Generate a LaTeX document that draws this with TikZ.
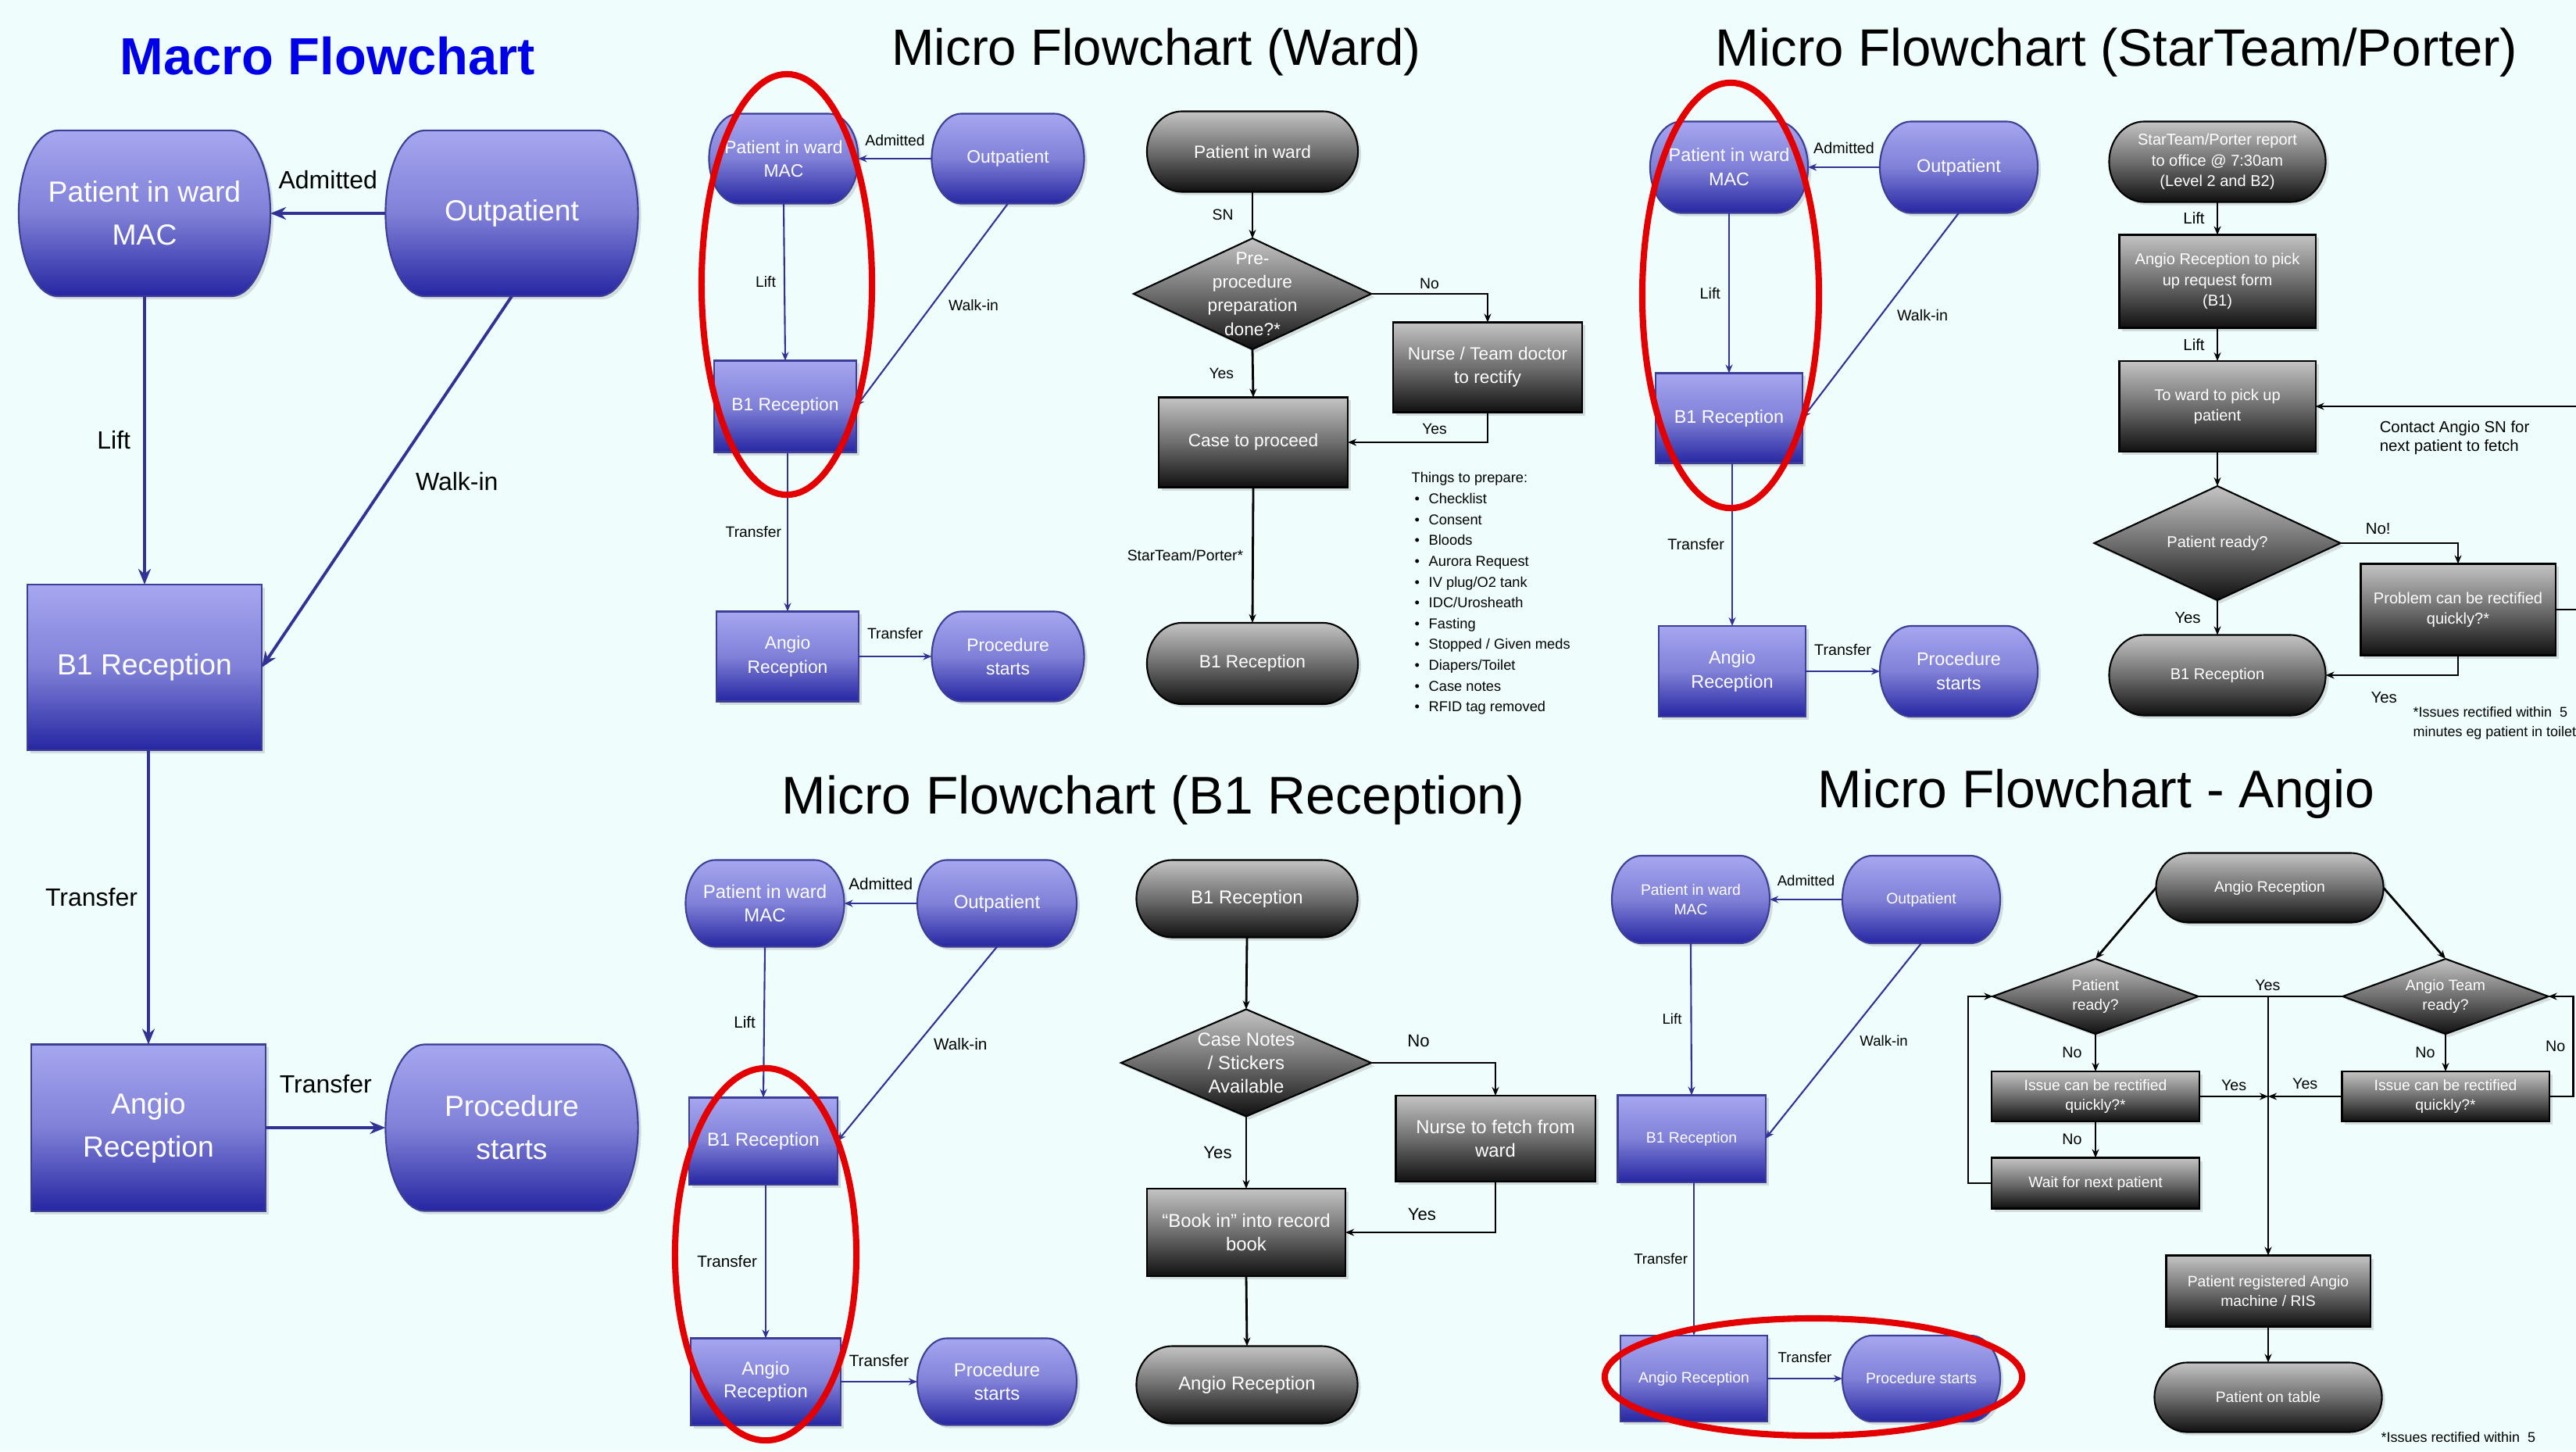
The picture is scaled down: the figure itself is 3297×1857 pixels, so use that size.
\documentclass[tikz,border=0pt]{standalone}
\usepackage{fontspec}
\setmainfont{Liberation Sans}
\usetikzlibrary{positioning,shapes.geometric,arrows.meta,shadows}

\definecolor{bgcol}{RGB}{239,253,253}
\definecolor{bluetop}{RGB}{166,166,240}
\definecolor{bluemid}{RGB}{128,128,216}
\definecolor{bluebot}{RGB}{38,38,162}
\definecolor{blueedge}{RGB}{62,62,150}
\definecolor{bluearrow}{RGB}{50,50,150}
\definecolor{graytop}{RGB}{196,196,196}
\definecolor{graymid}{RGB}{110,110,110}
\definecolor{graybot}{RGB}{16,16,16}
\definecolor{ringred}{RGB}{228,0,0}
\definecolor{titleblue}{RGB}{0,0,232}

\makeatletter
\newdimen\capxr \capxr=0.4cm
\newdimen\capL \newdimen\capR \newdimen\capT \newdimen\capB \newdimen\capH
\pgfdeclareshape{capsule}{
  \inheritsavedanchors[from=rectangle]
  \inheritanchorborder[from=rectangle]
  \inheritanchor[from=rectangle]{center}
  \inheritanchor[from=rectangle]{north}
  \inheritanchor[from=rectangle]{south}
  \inheritanchor[from=rectangle]{east}
  \inheritanchor[from=rectangle]{west}
  \inheritanchor[from=rectangle]{north east}
  \inheritanchor[from=rectangle]{north west}
  \inheritanchor[from=rectangle]{south east}
  \inheritanchor[from=rectangle]{south west}
  \inheritanchor[from=rectangle]{base}
  \inheritanchor[from=rectangle]{mid}
  \backgroundpath{%
    \southwest \capL=\pgf@x \capB=\pgf@y
    \northeast \capR=\pgf@x \capT=\pgf@y
    \capH=0.5\capT \advance\capH by -0.5\capB
    \pgfpathmoveto{\pgfqpoint{\dimexpr\capL+\capxr\relax}{\capT}}%
    \pgfpathlineto{\pgfqpoint{\dimexpr\capR-\capxr\relax}{\capT}}%
    \pgfpatharc{90}{-90}{\capxr and \capH}%
    \pgfpathlineto{\pgfqpoint{\dimexpr\capL+\capxr\relax}{\capB}}%
    \pgfpatharc{270}{90}{\capxr and \capH}%
    \pgfpathclose
  }
}
\makeatother

\newcommand\bl{\hspace{0.04cm}\makebox[0.18cm][l]{\textbullet}}

\tikzset{
  cap x radius/.code={\pgfmathsetlength{\capxr}{#1}},
  tx/.style={},
  lx/.style={},
  bluefill/.style={top color=bluetop, bottom color=bluebot, middle color=bluemid, draw=blueedge, line width=0.6pt},
  grayfill/.style={top color=graytop, bottom color=graybot, middle color=graymid, draw=black, line width=0.6pt},
  base/.style={text=white, align=center, inner sep=0pt, outer sep=0pt,
    drop shadow={opacity=0.25, shadow xshift=0.04cm, shadow yshift=-0.04cm}, tx},
  bcap/.style={capsule, base, bluefill},
  bbox/.style={rectangle, base, bluefill},
  gcap/.style={capsule, base, grayfill},
  gbox/.style={rectangle, base, grayfill},
  gdec/.style={diamond, base, grayfill,
    append after command={(\tikzlastnode.center) node[tx, text=white, align=center, inner sep=0pt] {#1}}},
  lab/.style={text=black, inner sep=0pt, lx},
  ttl/.style={text=black, inner sep=0pt, font=\fontsize{18.6}{22}\selectfont},
  ring/.style={draw=ringred, line width=2.3pt},
  bln/.style={draw=bluearrow, line width=0.6pt},
  bar/.style={bln, -{Stealth[length=1.1mm, width=0.9mm]}},
  gln/.style={draw=black, line width=0.8pt},
  gar/.style={gln, -{Stealth[length=1.1mm, width=0.9mm]}},
}

\begin{document}
\begin{tikzpicture}[x=0.01cm, y=-0.01cm]
  \useasboundingbox (0,0) rectangle (3297,1857);
  \fill[bgcol] (0,0) rectangle (3297,1857);

  \node[inner sep=0pt, text=titleblue, font=\bfseries\fontsize{19}{22}\selectfont] (mtitle) at (419,72) {Macro Flowchart};
  \node[ttl] (wtitle) at (1480,67) {Micro Flowchart (Ward)};
  \node[ttl, font=\fontsize{19.1}{22}\selectfont] (stitle) at (2709,67) {Micro Flowchart (StarTeam/Porter)};
  \node[ttl, font=\fontsize{19.3}{22}\selectfont] (btitle) at (1476,1024) {Micro Flowchart (B1 Reception)};
  \node[ttl, font=\fontsize{19.3}{22}\selectfont] (atitle) at (2683,1016) {Micro Flowchart - Angio};

  \begin{scope}[tx/.style={font=\fontsize{10.6}{15.6}\selectfont}, lx/.style={font=\fontsize{9.1}{11}\selectfont},
      cap x radius=0.5cm, bln/.style={draw=bluearrow, line width=1.1pt},
      bar/.style={bln, -{Stealth[length=2mm, width=1.6mm]}}]
    \node[bcap, minimum width=3.22cm, minimum height=2.12cm] (mward) at (185,273) {Patient in ward\\MAC};
    \node[bcap, minimum width=3.23cm, minimum height=2.12cm] (mout) at (655,273) {Outpatient};
    \node[bbox, minimum width=3.0cm, minimum height=2.12cm] (mb1) at (185,854) {B1 Reception};
    \node[bbox, minimum width=3.0cm, minimum height=2.13cm] (mangio) at (190,1443) {Angio\\Reception};
    \node[bcap, minimum width=3.23cm, minimum height=2.13cm] (mproc) at (655,1443) {Procedure\\starts};
    \draw[bar] (mout.west) -- node[lab, above=0.29cm] {Admitted} (mward.east);
    \draw[bar] (mward.south) -- node[lab, left=0.16cm] {Lift} (mb1.north);
    \draw[bar] (mout.south) -- node[lab, right=0.35cm] {Walk-in} (mb1.east);
    \draw[bar] (mb1.south -| mangio.north) -- node[lab, left=0.12cm] {Transfer} (mangio.north);
    \draw[bar] (mangio.east) -- node[lab, above=0.42cm] {Transfer} (mproc.west);
  \end{scope}

  \begin{scope}[tx/.style={font=\fontsize{6.5}{8.6}\selectfont}, lx/.style={font=\fontsize{5.5}{6.6}\selectfont}, cap x radius=0.38cm]
    \node[bcap, minimum width=1.91cm, minimum height=1.15cm] (wward) at (1003,203) {Patient in ward\\MAC};
    \node[bcap, minimum width=1.95cm, minimum height=1.15cm] (wout) at (1290,203) {Outpatient};
    \node[bbox, minimum width=1.82cm, minimum height=1.17cm] (wb1) at (1005,520) {B1 Reception};
    \node[bbox, minimum width=1.82cm, minimum height=1.15cm] (wangio) at (1008,840) {Angio\\Reception};
    \node[bcap, minimum width=1.95cm, minimum height=1.15cm] (wproc) at (1290,840) {Procedure\\starts};
    \draw[bar] (wout.west) -- node[lab, above=0.15cm] {Admitted} (wward.east);
    \draw[bar] (wward.south) -- node[lab, left=0.1cm] {Lift} (wb1.north);
    \draw[bar] (wout.south) -- node[lab, right=0.2cm] {Walk-in} (wb1.east);
    \draw[bar] (wb1.south -| wangio.north) -- node[lab, left=0.07cm] {Transfer} (wangio.north);
    \draw[bar] (wangio.east) -- node[lab, above=0.21cm] {Transfer} (wproc.west);
    \draw[ring] (1007,364) ellipse [x radius=1.09cm, y radius=2.69cm];
  \end{scope}

  \begin{scope}[tx/.style={font=\fontsize{6.45}{8.6}\selectfont}, lx/.style={font=\fontsize{5.5}{6.6}\selectfont}, cap x radius=0.45cm]
    \node[gcap, minimum width=2.70cm, minimum height=1.03cm] (gward) at (1603,194) {Patient in ward};
    \node[gdec={Pre-\\procedure\\preparation\\done?*}, minimum width=3.04cm, minimum height=1.42cm] (gprep) at (1603,376) {};
    \node[gbox, minimum width=2.42cm, minimum height=1.15cm] (gnurse) at (1904,470) {Nurse / Team doctor\\to rectify};
    \node[gbox, minimum width=2.42cm, minimum height=1.15cm] (gcase) at (1604,566) {Case to proceed};
    \node[gcap, minimum width=2.70cm, minimum height=1.04cm] (gb1) at (1603,849) {B1 Reception};
    \draw[gar] (gward.south) -- node[lab, left=0.23cm] {SN} (gprep.north);
    \draw[gar] (gprep.east) -| node[lab, above=0.05cm, pos=0.25] {No} (gnurse.north);
    \draw[gar] (gprep.south) -- node[lab, left=0.23cm] {Yes} (gcase.north);
    \draw[gar] (gnurse.south) |- node[lab, above=0.09cm, pos=0.69] {Yes} (gcase.east);
    \draw[gar] (gcase.south) -- node[lab, left=0.11cm] {StarTeam/Porter*} (gb1.north);
    \node[lab, anchor=north west, align=left, font=\fontsize{5.2}{7.57}\selectfont] (glist) at (1806,604)
      {Things to prepare:\\ \bl Checklist\\ \bl Consent\\ \bl Bloods\\ \bl Aurora Request\\ \bl IV plug/O2 tank\\
       \bl IDC/Urosheath\\ \bl Fasting\\ \bl Stopped / Given meds\\ \bl Diapers/Toilet\\ \bl Case notes\\ \bl RFID tag removed};
  \end{scope}

  \begin{scope}[tx/.style={font=\fontsize{6.65}{8.8}\selectfont}, lx/.style={font=\fontsize{5.6}{6.7}\selectfont}, cap x radius=0.4cm]
    \node[bcap, minimum width=2.02cm, minimum height=1.17cm] (sward) at (2213,214) {Patient in ward\\MAC};
    \node[bcap, minimum width=2.02cm, minimum height=1.17cm] (sout) at (2507,214) {Outpatient};
    \node[bbox, minimum width=1.88cm, minimum height=1.15cm] (sb1) at (2213,535) {B1 Reception};
    \node[bbox, minimum width=1.88cm, minimum height=1.16cm] (sangio) at (2217,859) {Angio\\Reception};
    \node[bcap, minimum width=2.02cm, minimum height=1.16cm] (sproc) at (2507,859) {Procedure\\starts};
    \draw[bar] (sout.west) -- node[lab, above=0.16cm] {Admitted} (sward.east);
    \draw[bar] (sward.south) -- node[lab, left=0.1cm] {Lift} (sb1.north);
    \draw[bar] (sout.south) -- node[lab, right=0.2cm] {Walk-in} (sb1.east);
    \draw[bar] (sb1.south -| sangio.north) -- node[lab, left=0.09cm] {Transfer} (sangio.north);
    \draw[bar] (sangio.east) -- node[lab, above=0.19cm] {Transfer} (sproc.west);
    \draw[ring] (2215,378) ellipse [x radius=1.13cm, y radius=2.72cm];
  \end{scope}

  \begin{scope}[tx/.style={font=\fontsize{5.7}{7.5}\selectfont}, lx/.style={font=\fontsize{5.8}{7}\selectfont}, cap x radius=0.45cm]
    \node[gcap, minimum width=2.77cm, minimum height=1.03cm] (sreport) at (2838,207) {StarTeam/Porter report\\to office @ 7:30am\\(Level 2 and B2)};
    \node[gbox, minimum width=2.51cm, minimum height=1.19cm] (sform) at (2838,360) {Angio Reception to pick\\up request form\\(B1)};
    \node[gbox, minimum width=2.51cm, minimum height=1.16cm] (sfetch) at (2838,520) {To ward to pick up\\patient};
    \node[gdec={Patient ready?}, minimum width=3.15cm, minimum height=1.46cm] (sready) at (2838,695) {};
    \node[gbox, minimum width=2.49cm, minimum height=1.17cm] (sprob) at (3146,780) {Problem can be rectified\\quickly?*};
    \node[gcap, minimum width=2.77cm, minimum height=1.03cm] (sb1g) at (2838,864) {B1 Reception};
    \draw[gar] (sreport.south) -- node[lab, left=0.15cm] {Lift} (sform.north);
    \draw[gar] (sform.south) -- node[lab, left=0.15cm] {Lift} (sfetch.north);
    \draw[gar] (sfetch.south) -- (sready.north);
    \draw[gar] (sready.east) -| node[lab, above=0.1cm, pos=0.16] {No!} (sprob.north);
    \draw[gar] (sready.south) -- node[lab, left=0.2cm] {Yes} (sb1g.north);
    \draw[gar] (sprob.south) |- node[lab, below=0.2cm, pos=0.78] {Yes} (sb1g.east);
    \draw[gar] (sprob.east) -- ++(60,0) |- node[lab, align=left, anchor=north west, pos=0.89, yshift=-0.17cm]
      {Contact Angio SN for\\next patient to fetch} (sfetch.east);
    \node[lab, anchor=north west, align=left, font=\fontsize{5.1}{7.1}\selectfont] (snote) at (3088,904)
      {*Issues rectified within~ 5\\minutes eg patient in toilet};
  \end{scope}

  \begin{scope}[tx/.style={font=\fontsize{6.8}{8.3}\selectfont}, lx/.style={font=\fontsize{5.9}{7}\selectfont}, cap x radius=0.38cm]
    \node[bcap, minimum width=2.03cm, minimum height=1.11cm] (bward) at (979,1156) {Patient in ward\\MAC};
    \node[bcap, minimum width=2.04cm, minimum height=1.11cm] (bout) at (1276,1156) {Outpatient};
    \node[bbox, minimum width=1.90cm, minimum height=1.11cm] (bb1) at (977,1460) {B1 Reception};
    \node[bbox, minimum width=1.92cm, minimum height=1.11cm] (bangio) at (980,1768) {Angio\\Reception};
    \node[bcap, minimum width=2.04cm, minimum height=1.11cm] (bproc) at (1276,1768) {Procedure\\starts};
    \draw[bar] (bout.west) -- node[lab, above=0.16cm] {Admitted} (bward.east);
    \draw[bar] (bward.south) -- node[lab, left=0.1cm] {Lift} (bb1.north);
    \draw[bar] (bout.south) -- node[lab, right=0.2cm] {Walk-in} (bb1.east);
    \draw[bar] (bb1.south -| bangio.north) -- node[lab, left=0.1cm] {Transfer} (bangio.north);
    \draw[bar] (bangio.east) -- node[lab, above=0.18cm] {Transfer} (bproc.west);
    \draw[ring] (980,1605) ellipse [x radius=1.16cm, y radius=2.38cm];
  \end{scope}

  \begin{scope}[tx/.style={font=\fontsize{6.8}{8.5}\selectfont}, lx/.style={font=\fontsize{6.3}{7.5}\selectfont}, cap x radius=0.46cm]
    \node[gcap, minimum width=2.83cm, minimum height=0.99cm] (bb1g) at (1596,1150) {B1 Reception};
    \node[gdec={Case Notes\\/ Stickers\\Available}, minimum width=3.2cm, minimum height=1.37cm] (bnotes) at (1595,1360) {};
    \node[gbox, minimum width=2.55cm, minimum height=1.10cm] (bfetch) at (1914,1457) {Nurse to fetch from\\ward};
    \node[gbox, minimum width=2.54cm, minimum height=1.12cm] (bbook) at (1595,1577) {“Book in” into record\\book};
    \node[gcap, minimum width=2.83cm, minimum height=0.99cm] (bangiog) at (1596,1772) {Angio Reception};
    \draw[gar] (bb1g.south) -- (bnotes.north);
    \draw[gar] (bnotes.east) -| node[lab, above=0.19cm, pos=0.19] {No} (bfetch.north);
    \draw[gar] (bnotes.south) -- node[lab, left=0.17cm] {Yes} (bbook.north);
    \draw[gar] (bfetch.south) |- node[lab, above=0.14cm, pos=0.745] {Yes} (bbook.east);
    \draw[gar] (bbook.south) -- (bangiog.north);
  \end{scope}

  \begin{scope}[tx/.style={font=\fontsize{5.5}{6.9}\selectfont}, lx/.style={font=\fontsize{5.3}{6.4}\selectfont}, cap x radius=0.38cm]
    \node[bcap, minimum width=2.02cm, minimum height=1.12cm] (award) at (2164,1151) {Patient in ward\\MAC};
    \node[bcap, minimum width=2.02cm, minimum height=1.12cm] (aout) at (2459,1151) {Outpatient};
    \node[bbox, minimum width=1.89cm, minimum height=1.11cm] (ab1) at (2165,1457) {B1 Reception};
    \node[bbox, minimum width=1.88cm, minimum height=1.10cm] (aangio) at (2168,1764) {Angio Reception};
    \node[bcap, minimum width=2.02cm, minimum height=1.10cm] (aproc) at (2459,1764) {Procedure starts};
    \draw[bar] (aout.west) -- node[lab, above=0.16cm] {Admitted} (award.east);
    \draw[bar] (award.south) -- node[lab, left=0.11cm] {Lift} (ab1.north);
    \draw[bar] (aout.south) -- node[lab, right=0.2cm] {Walk-in} (ab1.east);
    \draw[bar] (ab1.south -| aangio.north) -- node[lab, left=0.07cm] {Transfer} (aangio.north);
    \draw[bar] (aangio.east) -- node[lab, above=0.19cm] {Transfer} (aproc.west);
    \draw[ring] (2321,1762) ellipse [x radius=2.67cm, y radius=0.75cm];
  \end{scope}

  \begin{scope}[tx/.style={font=\fontsize{5.5}{7.2}\selectfont}, lx/.style={font=\fontsize{5.6}{6.7}\selectfont}, cap x radius=0.42cm]
    \node[gcap, minimum width=2.91cm, minimum height=0.89cm] (aangiog) at (2905,1136) {Angio Reception};
    \node[gdec={Patient\\ready?}, minimum width=2.63cm, minimum height=0.96cm] (apready) at (2682,1275) {};
    \node[gdec={Angio Team\\ready?}, minimum width=2.63cm, minimum height=0.96cm] (ateam) at (3130,1275) {};
    \node[gbox, minimum width=2.66cm, minimum height=0.64cm] (aissue1) at (2682,1403) {Issue can be rectified\\quickly?*};
    \node[gbox, minimum width=2.65cm, minimum height=0.64cm] (aissue2) at (3130,1403) {Issue can be rectified\\quickly?*};
    \node[gbox, minimum width=2.66cm, minimum height=0.65cm] (await) at (2682,1514) {Wait for next patient};
    \node[gbox, minimum width=2.61cm, minimum height=0.91cm] (areg) at (2903,1652) {Patient registered Angio\\machine / RIS};
    \node[gcap, minimum width=2.91cm, minimum height=0.89cm] (atable) at (2903,1788) {Patient on table};
    \coordinate (ajoin) at (areg.north |- apready.east);
    \draw[gar] (aangiog.west) -- (apready.north);
    \draw[gar] (aangiog.east) -- (ateam.north);
    \draw[gln] (apready.east) -- node[lab, above=0.06cm, pos=0.48] {Yes} (ateam.west);
    \draw[gar] (ajoin) -- (areg.north);
    \draw[gar] (apready.south) -- node[lab, left=0.16cm] {No} (aissue1.north);
    \draw[gar] (aissue1.east) -- node[lab, above=0.06cm] {Yes} (aissue1.east -| areg.north);
    \draw[gar] (aissue2.west) -- node[lab, above=0.08cm] {Yes} (aissue2.west -| areg.north);
    \draw[gar] (aissue1.south) -- node[lab, left=0.16cm] {No} (await.north);
    \draw[gar] (await.west) -- ++(-30,0) |- (apready.west);
    \draw[gar] (ateam.south) -- node[lab, left=0.12cm] {No} (aissue2.north);
    \draw[gar] (aissue2.east) -- ++(31,0) |- node[lab, left=0.09cm, pos=0.25] {No} (ateam.east);
    \draw[gar] (areg.south) -- (atable.north);
    \node[lab, anchor=north west, font=\fontsize{5.1}{7.1}\selectfont] (anote) at (3047,1832) {*Issues rectified within~ 5};
  \end{scope}
\end{tikzpicture}
\end{document}
